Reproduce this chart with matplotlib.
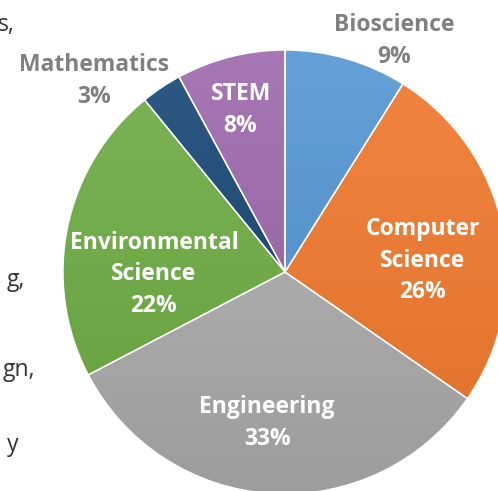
import matplotlib.pyplot as plt
import matplotlib.colors as mcolors
import numpy as np

# share of projects by field (percent, as labelled)
fields = ['Bioscience', 'Computer\nScience', 'Engineering',
          'Environmental\nScience', 'Mathematics', 'STEM']
shares = [9, 26, 33, 22, 3, 8]
colors = ['#5B9BD5', '#EF7B31', '#A5A5A5', '#70AD47', '#1F4E79', '#A16FB0']
inside = [False, True, True, True, False, True]

# label centres as offsets from the pie centre, in radii
label_pos = [(0.49, 1.04), (0.62, 0.05), (-0.08, -0.68),
             (-0.59, -0.01), (-0.86, 0.86), (-0.20, 0.73)]

plt.rcParams['font.family'] = ['Open Sans', 'DejaVu Sans']

fig = plt.figure(figsize=(4.98, 4.91), dpi=100)
ax = fig.add_axes([0, 0, 1, 1])

cx, cy, r = 285, 219, 222
wedges, _ = ax.pie(shares, colors=colors, startangle=90, counterclock=False,
                   center=(cx, cy), radius=r, frame=True,
                   wedgeprops=dict(edgecolor='white', linewidth=1.0))
ax.set_xlim(0, 498)
ax.set_ylim(0, 491)
ax.set_aspect('equal')
ax.axis('off')

# soft vertical gradient in each slice, like the office chart style
for w, c in zip(wedges, colors):
    base = np.array(mcolors.to_rgb(c))
    top = base + (1 - base) * 0.06
    bot = base * 0.95
    t = np.linspace(0, 1, 64)[:, None]
    grad = top * (1 - t[..., None]) + bot * t[..., None]
    bb = w.get_path().get_extents(w.get_patch_transform())
    im = ax.imshow(grad, extent=[bb.x0, bb.x1, bb.y0, bb.y1],
                   origin='upper', aspect='auto', zorder=w.get_zorder())
    im.set_clip_path(w)
    w.set_facecolor('none')
    w.set_zorder(w.get_zorder() + 0.5)

for name, s, ins, (fx, fy) in zip(fields, shares, inside, label_pos):
    ax.text(cx + fx * r, cy + fy * r, f'{name}\n{s}%', ha='center', va='center',
            fontsize=16.5, fontweight='bold', linespacing=1.42,
            color='white' if ins else '#808080', zorder=5)

# fragments of the neighbouring page text, cut by the crop
for txt, x, y in [('s,', 15, 466), ('g,', 25, 211), ('gn,', 35, 121), ('y', 18, 46)]:
    ax.text(x, y, txt, ha='right', va='center', fontsize=16.5, color='#333333')

fig.savefig('out.png', dpi=100)
